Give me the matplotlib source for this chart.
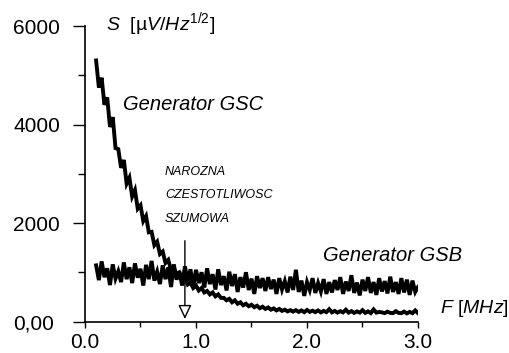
import numpy as np
import matplotlib
matplotlib.use('Agg')
import matplotlib.pyplot as plt

plt.rcParams['font.family'] = ['Liberation Sans', 'DejaVu Sans']
plt.rcParams['mathtext.fontset'] = 'custom'
plt.rcParams['mathtext.rm'] = 'Liberation Sans'
plt.rcParams['mathtext.it'] = 'Liberation Sans:italic'

# frequency grid [MHz]
freq = [0.100, 0.125, 0.150, 0.175, 0.200, 0.225, 0.250, 0.275, 0.300, 0.325,
        0.350, 0.375, 0.400, 0.425, 0.450, 0.475, 0.500, 0.525, 0.550, 0.575,
        0.600, 0.625, 0.650, 0.675, 0.700, 0.725, 0.750, 0.775, 0.800, 0.825,
        0.850, 0.875, 0.900, 0.925, 0.950, 0.975, 1.000, 1.025, 1.050, 1.075,
        1.100, 1.125, 1.150, 1.175, 1.200, 1.225, 1.250, 1.275, 1.300, 1.325,
        1.350, 1.375, 1.400, 1.425, 1.450, 1.475, 1.500, 1.525, 1.550, 1.575,
        1.600, 1.625, 1.650, 1.675, 1.700, 1.725, 1.750, 1.775, 1.800, 1.825,
        1.850, 1.875, 1.900, 1.925, 1.950, 1.975, 2.000, 2.025, 2.050, 2.075,
        2.100, 2.125, 2.150, 2.175, 2.200, 2.225, 2.250, 2.275, 2.300, 2.325,
        2.350, 2.375, 2.400, 2.425, 2.450, 2.475, 2.500, 2.525, 2.550, 2.575,
        2.600, 2.625, 2.650, 2.675, 2.700, 2.725, 2.750, 2.775, 2.800, 2.825,
        2.850, 2.875, 2.900, 2.925, 2.950, 2.975, 3.000]

# noise density of generator GSC [uV/Hz^1/2]
gsc = [5300, 4750, 4950, 4400, 4550, 3950, 4150, 3520, 3500, 3120,
       3280, 2800, 2920, 2540, 2670, 2290, 2360, 2040, 2140, 1810,
       1820, 1550, 1620, 1370, 1420, 1190, 1250, 1050, 1090, 940,
       990, 830, 880, 750, 790, 680, 730, 630, 680, 590,
       620, 550, 590, 510, 550, 480, 480, 430, 460, 390,
       430, 360, 390, 330, 360, 310, 340, 290, 320, 270,
       300, 255, 285, 240, 265, 225, 255, 215, 240, 205,
       230, 200, 230, 195, 225, 190, 235, 195, 220, 190,
       225, 185, 215, 190, 250, 185, 215, 180, 210, 185,
       240, 180, 210, 175, 205, 180, 230, 175, 205, 170,
       245, 180, 195, 185, 170, 200, 175, 170, 210, 175,
       170, 200, 165, 195, 170, 225, 170]

# noise density of generator GSB [uV/Hz^1/2]
gsb = [1140, 840, 1220, 900, 1080, 740, 1160, 870, 1020, 800,
       1200, 860, 1100, 780, 1180, 890, 1070, 730, 1150, 860,
       1230, 830, 1010, 760, 1140, 860, 1100, 700, 1160, 850,
       1020, 730, 1120, 820, 1060, 700, 1050, 780, 1000, 690,
       1080, 760, 960, 650, 1060, 740, 920, 630, 1010, 720,
       960, 600, 900, 690, 1000, 640, 870, 560, 920, 680,
       880, 620, 900, 660, 850, 560, 880, 650, 820, 590,
       910, 640, 1050, 600, 830, 520, 800, 640, 880, 580,
       780, 610, 860, 560, 800, 590, 840, 640, 900, 560,
       810, 620, 940, 580, 790, 530, 850, 620, 900, 580,
       800, 540, 880, 610, 820, 570, 910, 600, 800, 560,
       880, 590, 850, 540, 830, 600, 700]

y_ticks = [0, 2000, 4000, 6000]
y_ticklabels = ['0,00', '2000', '4000', '6000']
x_ticks = [0.0, 1.0, 2.0, 3.0]
x_ticklabels = ['0.0', '1.0', '2.0', '3.0']
corner_freq = 0.9

fig = plt.figure(figsize=(5.10, 3.53), dpi=100)
ax = fig.add_axes([85 / 510, 31.5 / 353, 333 / 510, 295.5 / 353])

ax.plot(freq, gsc, color='black', lw=2.8, solid_joinstyle='miter')
ax.plot(freq, gsb, color='black', lw=2.8, solid_joinstyle='miter')

ax.set_xlim(0, 3)
ax.set_ylim(0, 6000)

for s in ['top', 'right']:
    ax.spines[s].set_visible(False)
for s in ['left', 'bottom']:
    ax.spines[s].set_linewidth(1.2)

ax.set_yticks(y_ticks)
ax.set_yticklabels(y_ticklabels, ha='left')
ax.set_yticks([1000, 3000, 5000], minor=True)
ax.set_xticks(x_ticks)
ax.set_xticklabels(x_ticklabels)
ax.set_xticks([0.5, 1.5, 2.5], minor=True)
ax.tick_params(axis='y', which='major', length=8.6, width=1, labelsize=15, pad=43)
ax.tick_params(axis='y', which='minor', length=5, width=1)
ax.tick_params(axis='x', which='major', length=4.3, width=1, labelsize=15, pad=4)
ax.tick_params(axis='x', which='minor', length=3.5, width=1)

ax.text(0.19, 6040, r'$S$  [µ$V/Hz^{1/2}$]', fontsize=14, va='center', clip_on=False)
ax.text(3.2, 254, r'$F$ [$MHz$]', fontsize=14, va='center', clip_on=False)
ax.text(0.342, 4410, 'Generator GSC', fontsize=14.5, style='italic', va='center')
ax.text(2.144, 1350, 'Generator GSB', fontsize=14.5, style='italic', va='center')
ax.text(0.72, 3035, 'NAROZNA', fontsize=9, style='italic', va='center')
ax.text(0.72, 2570, 'CZESTOTLIWOSC', fontsize=9, style='italic', va='center')
ax.text(0.72, 2080, 'SZUMOWA', fontsize=9, style='italic', va='center')

ax.annotate('', xy=(corner_freq, 50), xytext=(corner_freq, 1640),
            arrowprops=dict(arrowstyle='-|>,head_width=0.4,head_length=0.85',
                            fc='white', ec='black', lw=1, shrinkA=0, shrinkB=0))

fig.savefig('out.png', dpi=100)
